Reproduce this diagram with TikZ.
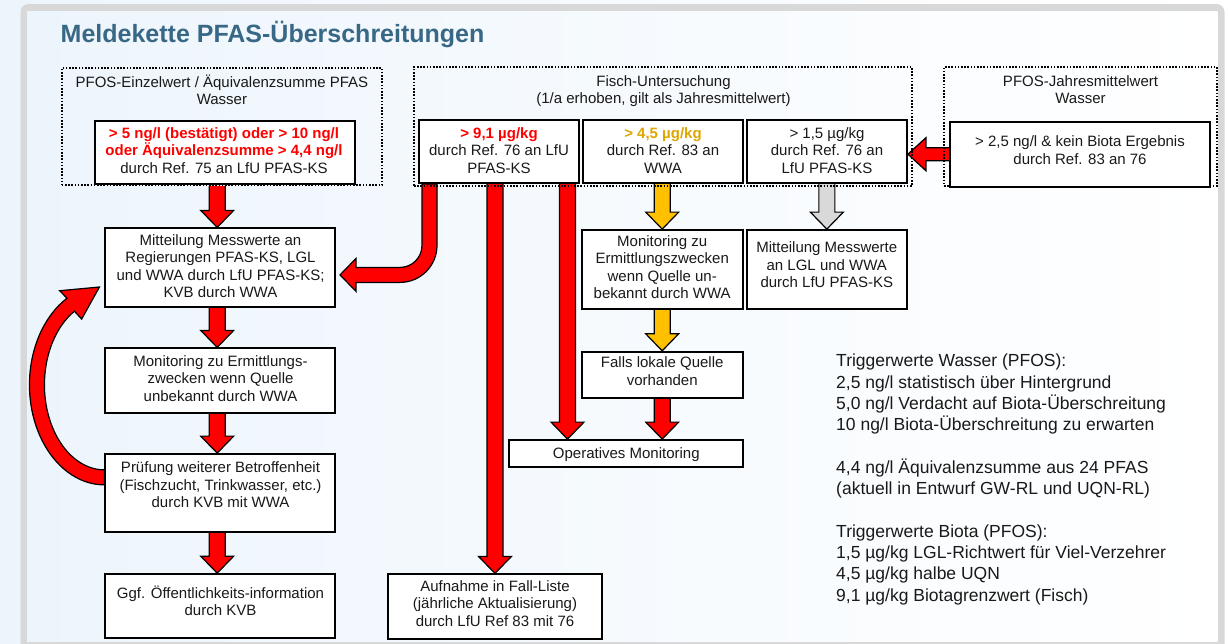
\documentclass[tikz,border=0pt]{standalone}
\usepackage{fontspec}
\setmainfont{Liberation Sans}
\usetikzlibrary{calc}
\definecolor{bgl}{RGB}{237,245,252}
\definecolor{framegray}{RGB}{216,216,216}
\definecolor{titlec}{RGB}{56,104,133}
\definecolor{txtc}{RGB}{25,25,25}
\definecolor{arrred}{RGB}{255,0,0}
\definecolor{arryel}{RGB}{255,192,0}
\definecolor{arrgray}{RGB}{217,217,217}
\definecolor{goldtxt}{RGB}{222,166,0}
\pgfdeclarelayer{back}
\pgfdeclarelayer{arrows}
\pgfsetlayers{back,arrows,main}
\newcommand\redb[1]{\textcolor{red}{\bfseries #1}}
\newcommand\goldb[1]{\textcolor{goldtxt}{\bfseries #1}}
\newcommand\fsbox{\fontsize{15pt}{17.5pt}\selectfont}
\newcommand\fsleg{\fontsize{17.5pt}{21.3pt}\selectfont}
\newcommand\blockdown[3]{%
  \draw[barrow,fill=#3] let \p1=#1, \p2=#2 in
    (\x2-8pt,\y1) -- (\x2-8pt,\y2+17pt) -- (\x2-16.5pt,\y2+17pt) -- (\x2,\y2)
    -- (\x2+16.5pt,\y2+17pt) -- (\x2+8pt,\y2+17pt) -- (\x2+8pt,\y1);}
\tikzset{
  box/.style={draw=black, line width=1.8pt, fill=white, inner sep=0pt},
  grp/.style={draw=black, line width=1.8pt, dash pattern=on 1.6pt off 1.6pt, inner sep=0pt},
  txt/.style={align=center, inner sep=0pt, font=\fsbox, text=txtc,
    execute at begin node=\strut, execute at end node=\strut},
  legtxt/.style={align=left, inner sep=0pt, font=\fsleg, text=txtc,
    execute at begin node=\strut, execute at end node=\strut},
  barrow/.style={draw=black, line width=1.2pt, line join=miter},
}
\begin{document}
\begin{tikzpicture}[x=1pt,y=-1pt]
\useasboundingbox (0,0) rectangle (1228,643);
\begin{pgfonlayer}{back}
  \shade[left color=bgl, right color=white] (0,0) rectangle (1228,643);
  \fill[framegray, rounded corners=8pt] (20.5,4) rectangle (1224.5,670);
  \shade[left color=bgl, right color=white] (27,11) rectangle (1217.5,641);
\end{pgfonlayer}

% title
\node[anchor=base west, inner sep=0pt, text=titlec,
  font=\fontsize{25pt}{30pt}\selectfont\bfseries] (title) at (60.5,42.3)
  {Meldekette PFAS-Überschreitungen};

% group frames
\node[grp, minimum width=320.3pt, minimum height=117pt] (g1) at (221.85,126.5) {};
\node[grp, minimum width=498pt, minimum height=119pt] (g2) at (663,126.5) {};
\node[grp, minimum width=273pt, minimum height=119pt] (g3) at (1080.5,126.5) {};

% boxes
\node[box, minimum width=259.8pt, minimum height=63.3pt] (lbox) at (224.8,152.35) {};
\node[box, minimum width=160pt, minimum height=63pt] (fA) at (499,151.5) {};
\node[box, minimum width=160pt, minimum height=63pt] (fB) at (663,151.5) {};
\node[box, minimum width=160pt, minimum height=63pt] (fC) at (827,151.5) {};
\node[box, minimum width=260pt, minimum height=65pt] (rbox) at (1080,154.2) {};
\node[box, minimum width=229.7pt, minimum height=79pt] (mit1) at (220.2,267.8) {};
\node[box, minimum width=229.7pt, minimum height=64.4pt] (mon1) at (220.2,380.5) {};
\node[box, minimum width=229.7pt, minimum height=77.7pt] (pruef) at (220.2,492.85) {};
\node[box, minimum width=229.7pt, minimum height=64.3pt] (ggf) at (220.2,606.2) {};
\node[box, minimum width=161pt, minimum height=79.3pt] (mon2) at (662.2,269.65) {};
\node[box, minimum width=160.3pt, minimum height=79.3pt] (mit2) at (826.85,269.65) {};
\node[box, minimum width=161pt, minimum height=46pt] (falls) at (662.2,374.7) {};
\node[box, minimum width=234pt, minimum height=27.3pt] (op) at (626.3,453.65) {};
\node[box, minimum width=213.4pt, minimum height=65pt] (auf) at (495,606.8) {};

% texts
\node[txt] (tg1) at (221.9,92.5) {PFOS-Einzelwert / Äquivalenzsumme PFAS\\Wasser};
\node[txt] (tg2) at (663.5,92.2) {Fisch-Untersuchung\\(1/a erhoben, gilt als Jahresmittelwert)};
\node[txt] (tg3) at (1080.5,92.2) {PFOS-Jahresmittelwert\\Wasser};
\node[txt] (tl) at (224,153) {\redb{> 5 ng/l (bestätigt) oder > 10 ng/l}\\\redb{oder Äquivalenzsumme > 4,4 ng/l}\\durch Ref. 75 an LfU PFAS-KS};
\node[txt] (tfA) at (499,153) {\redb{> 9,1 µg/kg}\\durch Ref. 76 an LfU\\PFAS-KS};
\node[txt] (tfB) at (663,153) {\goldb{> 4,5 µg/kg}\\durch Ref. 83 an\\WWA};
\node[txt] (tfC) at (827,153) {> 1,5 µg/kg\\durch Ref. 76 an\\LfU PFAS-KS};
\node[txt] (tr) at (1080,152.5) {> 2,5 ng/l \& kein Biota Ergebnis\\durch Ref. 83 an 76};
\node[txt] (tmit1) at (220.5,268.75) {Mitteilung Messwerte an\\Regierungen PFAS-KS, LGL\\und WWA durch LfU PFAS-KS;\\KVB durch WWA};
\node[txt] (tmon1) at (220.5,380.7) {Monitoring zu Ermittlungs-\\zwecken wenn Quelle\\unbekannt durch WWA};
\node[txt] (tpruef) at (220.5,487.3) {Prüfung weiterer Betroffenheit\\(Fischzucht, Trinkwasser, etc.)\\durch KVB mit WWA};
\node[txt] (tggf) at (220.5,603.5) {Ggf. Öffentlichkeits-information\\durch KVB};
\node[txt] (tmon2) at (662.2,269.5) {Monitoring zu\\Ermittlungszwecken\\wenn Quelle un-\\bekannt durch WWA};
\node[txt] (tmit2) at (826.8,267.3) {Mitteilung Messwerte\\an LGL und WWA\\durch LfU PFAS-KS};
\node[txt] (tfalls) at (662.2,373.5) {Falls lokale Quelle\\vorhanden};
\node[txt] (top) at (626.3,454.8) {Operatives Monitoring};
\node[txt] (tauf) at (495,605.7) {Aufnahme in Fall-Liste\\(jährliche Aktualisierung)\\durch LfU Ref 83 mit 76};

% legend
\node[legtxt, anchor=north west] (leg) at (836,354.1) {Triggerwerte Wasser (PFOS):\\
2,5 ng/l statistisch über Hintergrund\\
5,0 ng/l Verdacht auf Biota-Überschreitung\\
10 ng/l Biota-Überschreitung zu erwarten\\[21.3pt]
4,4 ng/l Äquivalenzsumme aus 24 PFAS\\
(aktuell in Entwurf GW-RL und UQN-RL)\\[21.3pt]
Triggerwerte Biota (PFOS):\\
1,5 µg/kg LGL-Richtwert für Viel-Verzehrer\\
4,5 µg/kg halbe UQN\\
9,1 µg/kg Biotagrenzwert (Fisch)};

% arrows
\begin{pgfonlayer}{arrows}
\blockdown{(g1.south)}{([xshift=-3pt]mit1.north)}{arrred}
\blockdown{(mit1.south)}{([xshift=-3pt]mon1.north)}{arrred}
\blockdown{(mon1.south)}{([xshift=-3pt]pruef.north)}{arrred}
\blockdown{(pruef.south)}{([xshift=-3pt]ggf.north)}{arrred}
\blockdown{(fA.south)}{(auf.north)}{arrred}
\blockdown{(fA.south)}{([xshift=-58.8pt]op.north)}{arrred}
\blockdown{(fB.south)}{(mon2.north)}{arryel}
\blockdown{(mon2.south)}{(falls.north)}{arryel}
\blockdown{(falls.south)}{(op.north -| falls.south)}{arrred}
\blockdown{(fC.south)}{(mit2.north)}{arrgray}
\draw[barrow,fill=arrred] let \p1=(rbox.west), \p2=(fC.east) in
  (\x1,\y1+6.5pt) -- (\x2+18pt,\y1+6.5pt) -- (\x2+18pt,\y1+16.5pt) -- (\x2,\y1)
  -- (\x2+18pt,\y1-16.5pt) -- (\x2+18pt,\y1-6.5pt) -- (\x1,\y1-6.5pt);
\draw[barrow,fill=arrred] ([xshift=-62pt]fA.south) -- ++(0,61.5)
  arc[start angle=0,end angle=90,radius=37] -- ++(-44,0) -- ++(0,9)
  -- ++(-16,-16.5) -- ++(16,-16.5) -- ++(0,9) -- ++(44,0)
  arc[start angle=90,end angle=0,radius=22] -- ++(0,-61.5) -- cycle;
\draw[barrow,fill=arrred] ([yshift=8pt]pruef.west)
  arc[start angle=90,end angle=240,x radius=75,y radius=100]
  -- ++(-7.2,-7.55) -- ++(39.7,-3.7) -- ++(-17.8,32.1) -- ++(-7.2,-7.85)
  arc[start angle=240,end angle=90,x radius=60,y radius=85] -- cycle;
\end{pgfonlayer}
\end{tikzpicture}
\end{document}
